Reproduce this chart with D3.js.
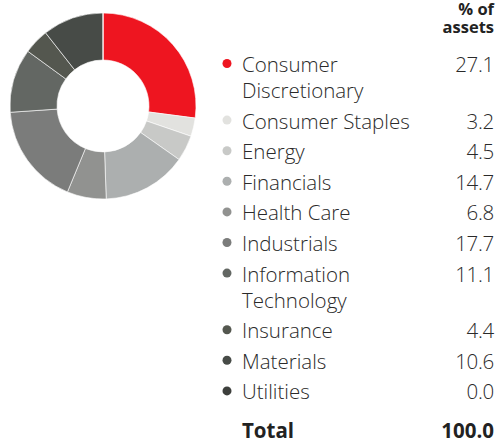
<!DOCTYPE html>
<html>
<head>
<meta charset="utf-8">
<script src="https://cdn.jsdelivr.net/npm/d3@7"></script>
<style>
  body { margin: 0; background: #fff; }
  svg { display: block; font-family: "Open Sans", sans-serif; }
</style>
</head>
<body>
<svg id="chart" width="496" height="444"></svg>
<script>
// sector data
var sectors = ["Consumer Discretionary", "Consumer Staples", "Energy", "Financials", "Health Care",
               "Industrials", "Information Technology", "Insurance", "Materials", "Utilities"];
var labelLines = [["Consumer", "Discretionary"], ["Consumer Staples"], ["Energy"], ["Financials"], ["Health Care"],
                  ["Industrials"], ["Information", "Technology"], ["Insurance"], ["Materials"], ["Utilities"]];
var values = [27.1, 3.2, 4.5, 14.7, 6.8, 17.7, 11.1, 4.4, 10.6, 0.0];
var colors = ["#ee1520", "#e2e2df", "#c8c9c7", "#acafaf", "#919290", "#7b7c7b", "#636763", "#54574f", "#474b47", "#3d3f3c"];
var headerLines = ["% of", "assets"];
var totalLabel = "100.0";

var svg = d3.select("#chart");

var color = d3.scaleOrdinal().domain(sectors).range(colors);

// donut
var cx = 103, cy = 106, outerR = 93, innerR = 46;
var pie = d3.pie().sort(null).value(function(d, i) { return values[i]; });
var arc = d3.arc().innerRadius(innerR).outerRadius(outerR);

var g = svg.append("g").attr("transform", "translate(" + cx + "," + cy + ")");
g.selectAll("path")
  .data(pie(sectors))
  .enter()
  .append("path")
  .attr("d", arc)
  .attr("fill", function(d) { return color(d.data); })
  .attr("stroke", "#fff")
  .attr("stroke-width", 0.6);

// legend / table
var dotX = 227, textX = 242, valX = 494;
var rowStep = 30.6, wrapStep = 26, fs = 20.5;

headerLines.forEach(function(line, i) {
  svg.append("text")
    .attr("x", valX).attr("y", 15 + i * 18)
    .attr("text-anchor", "end")
    .attr("font-size", 16.5).attr("font-weight", 700).attr("fill", "#222")
    .text(line);
});

var y = 72;
sectors.forEach(function(s, i) {
  var row = svg.append("g");
  row.append("circle")
    .attr("cx", dotX).attr("cy", y - 8.5).attr("r", 4.5)
    .attr("fill", color(s));
  labelLines[i].forEach(function(line, j) {
    row.append("text")
      .attr("x", textX).attr("y", y + j * wrapStep)
      .attr("font-size", fs).attr("font-weight", 300).attr("fill", "#2a2a2a")
      .text(line);
  });
  row.append("text")
    .attr("x", valX).attr("y", y)
    .attr("text-anchor", "end")
    .attr("font-size", fs).attr("font-weight", 300).attr("fill", "#2a2a2a")
    .attr("letter-spacing", -0.3)
    .text(values[i].toFixed(1));
  y += (labelLines[i].length - 1) * wrapStep + rowStep;
});

// total row
svg.append("text")
  .attr("x", textX).attr("y", 438)
  .attr("font-size", fs).attr("font-weight", 700).attr("fill", "#222")
  .text("Total");
svg.append("text")
  .attr("x", valX).attr("y", 438)
  .attr("text-anchor", "end")
  .attr("font-size", fs).attr("font-weight", 700).attr("fill", "#222")
  .text(totalLabel);
</script>
</body>
</html>
